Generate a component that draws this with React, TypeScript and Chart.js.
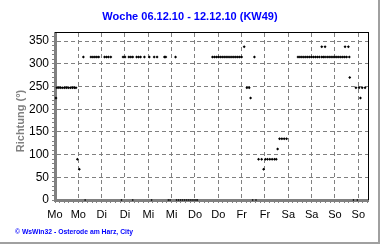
import React, { useEffect, useRef } from 'react';
import { Chart, registerables } from 'chart.js';

Chart.register(...registerables);

const TITLE = 'Woche 06.12.10 - 12.12.10 (KW49)';
const Y_TITLE = 'Richtung (°)';
const FOOTER = '© WsWin32 - Osterode am Harz, City';
const DAY_LABELS = ['Mo', 'Mo', 'Di', 'Di', 'Mi', 'Mi', 'Do', 'Do', 'Fr', 'Fr', 'Sa', 'Sa', 'So', 'So'];

// hours since Monday 00:00 and wind direction in degrees
const DIR_HOURS = [
  0.5,
  1, 2, 3, 4, 5, 6, 7, 8, 9, 10, 10.8,
  11.5, 12.5,
  14.6,
  18.5, 19.5, 20.5, 21.5, 22.5,
  25.5, 26.5, 27.5, 28.7,
  35, 36, 38, 39, 40, 42, 43, 44, 46,
  48.5, 51, 52.5,
  56.3, 57,
  62,
  81, 82, 83, 84, 85, 86, 87, 88, 89, 90, 91, 92, 93, 94, 95, 96,
  97.3,
  98.7, 99.9,
  100.6,
  102.6,
  104.7, 106.3,
  107.3,
  108.2, 109.3, 110.5, 111.7, 112.9, 113.8,
  114.5,
  115.5, 116.7, 117.9, 119.1,
  125, 126, 127, 128, 129, 130, 131, 132, 133, 134, 135, 136,
  137.2, 137.2, 138, 138.9, 138.9,
  140, 141, 142, 143, 144, 145, 146, 147, 148, 149, 150,
  149.2, 150.9, 151.4,
  151.6,
  154.8, 156.4, 158, 159.5,
  157.1,
];
const DIR_VALUES = [
  225,
  247.5, 247.5, 247.5, 247.5, 247.5, 247.5, 247.5, 247.5, 247.5, 247.5, 247.5,
  90, 67.5,
  315,
  315, 315, 315, 315, 315,
  315, 315, 315, 315,
  315, 315, 315, 315, 315, 315, 315, 315, 315,
  315, 315, 315,
  315, 315,
  315,
  315, 315, 315, 315, 315, 315, 315, 315, 315, 315, 315, 315, 315, 315, 315, 315,
  337.5,
  247.5, 247.5,
  225,
  315,
  90, 90,
  67.5,
  90, 90, 90, 90, 90, 90,
  112.5,
  135, 135, 135, 135,
  315, 315, 315, 315, 315, 315, 315, 315, 315, 315, 315, 315,
  315, 337.5, 315, 315, 337.5,
  315, 315, 315, 315, 315, 315, 315, 315, 315, 315, 315,
  337.5, 337.5, 315,
  270,
  247.5, 247.5, 247.5, 247.5,
  225,
];
// calm readings (direction 0)
const CALM_HOURS = [15.5, 34.2, 40, 49.7, 58.3, 59.2, 62.5, 63.5, 64.5, 65.5, 66.5, 67.5, 68.5, 69.5, 70.5, 71.5, 72.5, 73.2, 101.7, 103.4, 153.5, 155.5];
const CALM_VALUES = [0, 0, 0, 0, 0, 0, 0, 0, 0, 0, 0, 0, 0, 0, 0, 0, 0, 0, 0, 0, 0, 0];

const X_MAX = 161;
const X_STEP = 2.4;
const Y_MAX = 368;
const Y_STEP = 10;

const FONT = "'Liberation Sans', Arial, sans-serif";
const BLUE = '#0000ff';
const GRID = '#808080';

const decor = {
  id: 'decor',
  beforeDraw(chart: any) {
    const c = chart.ctx;
    c.save();
    c.fillStyle = '#ffffff';
    c.fillRect(0, 0, chart.width, chart.height);
    c.restore();
  },
  afterDraw(chart: any) {
    const c = chart.ctx;
    const a = chart.chartArea;
    c.save();
    c.fillStyle = '#000000';
    c.fillRect(a.left, a.top - 1, a.right - a.left + 1, 1);
    c.fillRect(a.right, a.top - 1, 1, a.bottom - a.top + 1);

    c.fillStyle = BLUE;
    c.font = `bold 11px ${FONT}`;
    c.textAlign = 'center';
    c.textBaseline = 'middle';
    c.fillText(TITLE, chart.width / 2, 17);

    c.save();
    c.translate(21, 121);
    c.rotate(-Math.PI / 2);
    c.fillStyle = '#808080';
    c.font = `bold 11px ${FONT}`;
    c.fillText(Y_TITLE, 0, 0);
    c.restore();

    c.fillStyle = BLUE;
    c.font = `bold 7px ${FONT}`;
    c.textAlign = 'left';
    c.fillText(FOOTER, 15, 232, 118);

    c.fillStyle = '#a0a0a0';
    c.fillRect(378, 0, 2, 244);
    c.fillRect(0, 242, 380, 2);
    c.restore();
  },
};

export default function App() {
  const ref = useRef<HTMLCanvasElement>(null);
  useEffect(() => {
    document.body.style.margin = '0';
    const canvas = ref.current!;
    const pointOpts = {
      pointStyle: 'rectRot',
      backgroundColor: '#000000',
      borderColor: '#000000',
      borderWidth: 0,
      showLine: false,
      clip: false,
    };
    const chart = new Chart(canvas, {
      type: 'scatter',
      data: {
        datasets: [
          { ...pointOpts, pointRadius: 1.5, data: DIR_HOURS.map((h, i) => ({ x: h, y: DIR_VALUES[i] })) } as any,
          { ...pointOpts, pointRadius: 1, data: CALM_HOURS.map((h, i) => ({ x: h, y: CALM_VALUES[i] })) } as any,
        ],
      },
      options: {
        responsive: false,
        animation: false,
        devicePixelRatio: 1,
        events: [],
        layout: { padding: { top: 33, right: 12, bottom: 0, left: 0 } },
        plugins: {
          legend: { display: false },
          title: { display: false },
          tooltip: { enabled: false },
        },
        scales: {
          x: {
            type: 'linear',
            min: 0,
            max: X_MAX,
            afterBuildTicks: (s: any) => {
              const t = [];
              for (let i = 0; i * X_STEP <= X_MAX; i++) t.push({ value: Math.round(i * X_STEP * 10) / 10 });
              s.ticks = t;
            },
            afterFit: (s: any) => {
              s.height = 45;
            },
            ticks: {
              autoSkip: false,
              maxRotation: 0,
              minRotation: 0,
              padding: 5,
              color: '#000000',
              font: { family: FONT, size: 11 },
              callback: (_v: any, i: number) => (i % 5 === 0 ? DAY_LABELS[i / 5] ?? '' : ''),
            },
            grid: {
              color: (ctx: any) => (ctx.index % 5 === 0 ? GRID : 'rgba(0,0,0,0)'),
              tickColor: GRID,
              tickLength: 3,
              lineWidth: 1,
            },
            border: { color: GRID, width: 3, dash: [4, 3] },
          },
          y: {
            type: 'linear',
            min: 0,
            max: Y_MAX,
            afterBuildTicks: (s: any) => {
              const t = [];
              for (let v = 0; v <= 360; v += Y_STEP) t.push({ value: v });
              s.ticks = t;
            },
            afterFit: (s: any) => {
              s.width = 55;
            },
            ticks: {
              autoSkip: false,
              padding: 3,
              color: '#000000',
              font: { family: FONT, size: 12 },
              callback: (v: any) => (Number(v) % 50 === 0 ? String(v) : ''),
            },
            grid: {
              color: (ctx: any) => (ctx.tick && ctx.tick.value % 50 === 0 && ctx.tick.value !== 0 ? GRID : 'rgba(0,0,0,0)'),
              tickColor: GRID,
              tickLength: 3,
              lineWidth: 1,
            },
            border: { color: GRID, width: 3, dash: [4, 3] },
          },
        },
      } as any,
      plugins: [decor],
    });
    return () => chart.destroy();
  }, []);
  return (
    <div style={{ position: 'absolute', left: 0, top: 0, width: 380, height: 245 }}>
      <canvas ref={ref} width={380} height={245} style={{ display: 'block', width: 380, height: 245 }} />
    </div>
  );
}
